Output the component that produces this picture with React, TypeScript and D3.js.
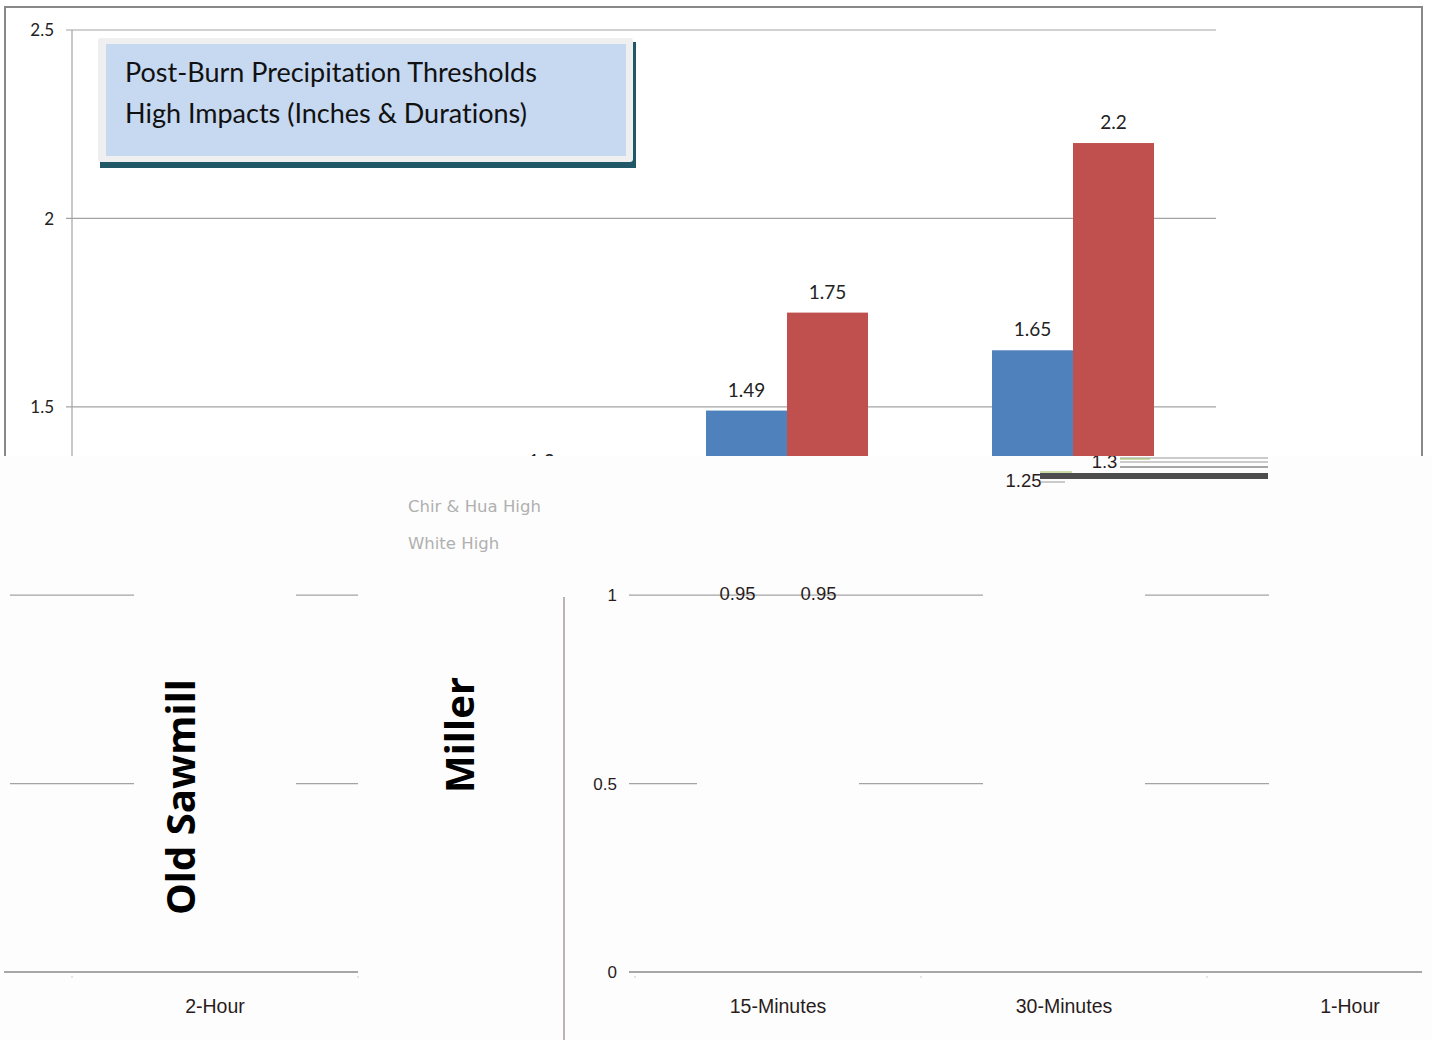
import React from 'react';
import * as d3 from 'd3';

const categories = ['15-Minutes', '30-Minutes', '1-Hour', '2-Hour'];
const seriesNames = ['Chir & Hua High', 'White High'];
const chirHuaHigh = [0.95, 1.25, 1.49, 1.65];
const whiteHigh = [0.95, 1.3, 1.75, 2.2];
const yTicks = [0, 0.5, 1, 1.5, 2, 2.5];
const titleLines = ['Post-Burn Precipitation Thresholds', 'High Impacts (Inches & Durations)'];
const watershedLabels = ['Old Sawmill', 'Miller'];

const W = 1432;
const H = 1040;
const SPLIT = 456;
const SHIFT = 563;
const WRAP = 1421;
const BLUE = '#4f81bd';
const RED = '#c0504d';

const y = d3.scaleLinear().domain([0, 2.5]).range([972, 30]);
const x = d3.scaleBand().domain(categories).range([72, 1216]).paddingInner(0.4336).paddingOuter(0.2168);
const x1 = d3.scaleBand().domain(seriesNames).range([0, x.bandwidth()]);
const seriesValues = [chirHuaHigh, whiteHigh];
const seriesColors = [BLUE, RED];

function ChartLayer({ mode, offset }: { mode: 'top' | 'bottom'; offset: number }) {
  const top = mode === 'top';
  const step = x.step();
  const [r0, r1] = x.range();
  const textColor = top ? '#222' : '#2a1c1c';
  // only emit texts that fall inside this band of the picture
  const shows = (tx: number, ty: number) => {
    const ax = tx + offset;
    if (ax < -20 || ax > 1440) return false;
    return top ? ty < SPLIT + 14 : ty > SPLIT - 4;
  };
  return (
    <g transform={`translate(${offset},0)`}>
      {yTicks.filter((t) => t > 0).map((t) => (
        <line key={'g' + t} x1={r0 - 6} x2={r1} y1={y(t)} y2={y(t)} stroke="#a3a3a3" strokeWidth={1.2} />
      ))}
      {top && <line x1={r0} x2={r0} y1={y(2.5)} y2={SPLIT} stroke="#a3a3a3" strokeWidth={1.2} />}
      {yTicks.filter((t) => shows(r0 - 18, y(t))).map((t) => (
        <text key={'t' + t} x={r0 - 18} y={y(t)} dy="0.36em" textAnchor="end"
          fontFamily={top ? "Lato, 'Open Sans', sans-serif" : "'Liberation Sans', sans-serif"}
          fontSize={17} fill={textColor}>
          {String(t)}
        </text>
      ))}
      {categories.map((c, i) =>
        seriesValues.map((vals, s) => (
          <rect key={c + s} x={(x(c) as number) + (x1(seriesNames[s]) as number)} y={y(vals[i])}
            width={x1.bandwidth()} height={y(0) - y(vals[i])}
            fill={top ? seriesColors[s] : '#fdfdfd'} />
        ))
      )}
      <line x1={r0 - 6} x2={r1 + (offset > 0 ? 300 : 0)} y1={y(0)} y2={y(0)} stroke="#8a8a8a" strokeWidth={1.5} />
      {d3.range(categories.length + 1).map((k) => (
        <line key={'ct' + k} x1={r0 + k * step} x2={r0 + k * step} y1={y(0) + 4} y2={y(0) + 6} stroke="#d8c8c8" />
      ))}
      {categories.filter((c) => shows((x(c) as number) + x.bandwidth() / 2, 1013)).map((c) => (
        <text key={'cl' + c} x={(x(c) as number) + x.bandwidth() / 2} y={1013} textAnchor="middle"
          fontFamily="'Liberation Sans', Arial, sans-serif" fontSize={19.5} fill={textColor}>
          {c}
        </text>
      ))}
      {categories.map((c, i) =>
        seriesValues.map((vals, s) => {
          const cx = (x(c) as number) + (x1(seriesNames[s]) as number) + x1.bandwidth() / 2;
          const cy = y(vals[i]) - 14;
          if (!shows(cx, cy)) return null;
          return (
            <text key={'dl' + c + s} x={cx} y={cy} textAnchor="middle"
              fontFamily={top ? "Lato, 'Open Sans', sans-serif" : "'Liberation Sans', sans-serif"}
              fontSize={top ? 19 : 18.5} fill={textColor}>
              {String(vals[i])}
            </text>
          );
        })
      )}
      {seriesNames.filter((n, s) => shows(r1 + 50, 512 + s * 37)).map((n, s) => (
        <text key={'lg' + n} x={r1 + 50} y={512 + s * 37}
          fontFamily="'DejaVu Sans', Verdana, sans-serif" fontSize={16.5} fill="#b0b0b0">
          {n}
        </text>
      ))}
    </g>
  );
}

export default function App() {
  return (
    <svg width={W} height={H} style={{ position: 'absolute', left: 0, top: 0, background: '#fff' }}
      xmlns="http://www.w3.org/2000/svg">
      <defs>
        <clipPath id="topClip"><rect x={0} y={0} width={W} height={SPLIT} /></clipPath>
        <clipPath id="botClip"><rect x={4} y={SPLIT} width={1418} height={H - SPLIT} /></clipPath>
      </defs>
      <rect x={0} y={0} width={W} height={H} fill="#fff" />
      <rect x={0} y={SPLIT} width={W} height={H - SPLIT} fill="#fdfdfd" />

      {/* upper band: chart in place */}
      <g clipPath="url(#topClip)">
        <path d={`M5,${SPLIT} V7 H1422 V${SPLIT}`} fill="none" stroke="#888" strokeWidth={2} />
        <ChartLayer mode="top" offset={0} />
        {/* title box */}
        <rect x={100} y={42} width={536} height={126} fill="#215868" />
        <rect x={98} y={38} width={535} height={124} rx={3} fill="#efefef" />
        <rect x={106} y={44} width={520} height={112} fill="#c6d9f1" />
        {titleLines.map((t, i) => (
          <text key={t} x={125} y={82 + i * 41} fontFamily="Lato, 'Open Sans', sans-serif" fontSize={27}
            fill="#111" style={{ fontVariantLigatures: 'none' }}>
            {t}
          </text>
        ))}
      </g>

      {/* lower band: shifted, wrapped copy */}
      <g clipPath="url(#botClip)">
        <ChartLayer mode="bottom" offset={SHIFT} />
        <ChartLayer mode="bottom" offset={SHIFT - WRAP} />
        <line x1={564} x2={564} y1={597} y2={H} stroke="#a89a9a" strokeWidth={1.5} />
        {/* rendering artifacts */}
        <rect x={1040} y={473} width={228} height={6} fill="#4d4d4d" />
        <line x1={1120} x2={1268} y1={458} y2={458} stroke="#999" strokeWidth={1} />
        <line x1={1120} x2={1268} y1={462} y2={462} stroke="#999" strokeWidth={1} />
        <line x1={1120} x2={1268} y1={467} y2={467} stroke="#888" strokeWidth={1.5} />
        <line x1={1120} x2={1150} y1={459} y2={459} stroke="#9bbb59" strokeWidth={1} />
        <line x1={1040} x2={1072} y1={472} y2={472} stroke="#9bbb59" strokeWidth={1} />
        <line x1={1040} x2={1065} y1={482} y2={482} stroke="#999" strokeWidth={1} />
      </g>

      {watershedLabels.map((t, i) => (
        <text key={t} transform={`translate(${[195, 474][i]},${[797, 735][i]}) rotate(-90)`} textAnchor="middle"
          fontFamily="'Open Sans', sans-serif" fontWeight={700} fontSize={40} fill="#000">
          {t}
        </text>
      ))}
    </svg>
  );
}
